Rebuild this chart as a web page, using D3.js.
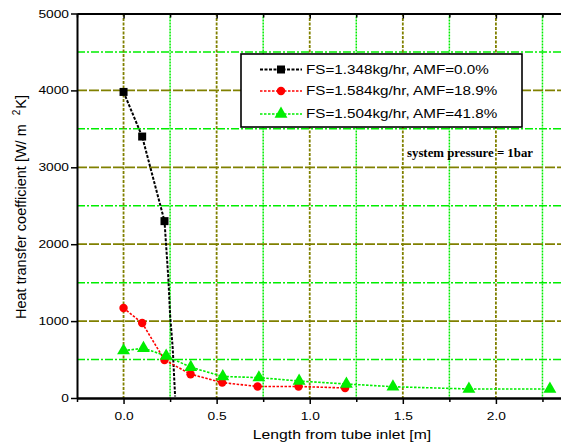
<!DOCTYPE html>
<html><head><meta charset="utf-8">
<script src="https://cdn.jsdelivr.net/npm/d3@7"></script>
<style>body{margin:0;background:#fff;} svg{display:block;}</style>
</head><body>
<svg id="c" width="561" height="448"></svg>
<script>
// ---- data ----
const blackX = [0, 0.1, 0.22];
const blackY = [3980, 3400, 2300];
const blackTailX = [0.241, 0.25, 0.264, 0.277];
const blackTailY = [1540, 1080, 650, 20];
const redX = [0, 0.1, 0.22, 0.36, 0.53, 0.72, 0.94, 1.19];
const redY = [1170, 975, 495, 310, 200, 150, 150, 130];
const greenX = [0, 0.107, 0.229, 0.361, 0.533, 0.727, 0.943, 1.197, 1.447, 1.855, 2.29];
const greenY = [616, 647, 547, 400, 280, 265, 221, 182, 147, 117, 117];
const seriesLabels = ["FS=1.348kg/hr, AMF=0.0%", "FS=1.584kg/hr, AMF=18.9%", "FS=1.504kg/hr, AMF=41.8%"];
const seriesColors = ["#000000", "#ff0000", "#00ee00"];
const seriesShapes = ["square", "circle", "triangle"];
const xMajor = [0, 0.5, 1.0, 1.5, 2.0, 2.5];
const xMinor = [-0.25, 0.25, 0.75, 1.25, 1.75, 2.25];
const xLabelled = [0, 0.5, 1.0, 1.5, 2.0];
const yMajor = [0, 1000, 2000, 3000, 4000, 5000];
const yMinor = [500, 1500, 2500, 3500, 4500];
const xLabel = "Length from tube inlet [m]";
const yLabelMain = "Heat transfer coefficient [W/ m";
const yLabelSup = "2";
const yLabelEnd = "K]";
const note = "system pressure = 1bar";

// ---- layout ----
const svg = d3.select("#c");
const x = d3.scaleLinear().domain([-0.25, 2.5]).range([77, 589]);
const y = d3.scaleLinear().domain([0, 5000]).range([398, 13.5]);
const SANS = "'Liberation Sans', Arial, sans-serif";

function stretch(sel, sx) {
  sel.each(function () {
    const t = d3.select(this);
    const x0 = +t.attr("x") || 0;
    t.attr("transform", `translate(${x0},0) scale(${sx},1) translate(${-x0},0)`);
  });
}

// ---- grid ----
const grid = svg.append("g");
const olive = "#808000", lime = "#00ee00";
grid.selectAll(".vmin").data(xMinor.filter(d => d > -0.25)).enter().append("line")
  .attr("x1", d => x(d)).attr("x2", d => x(d)).attr("y1", y(5000)).attr("y2", y(0))
  .attr("stroke", lime).attr("stroke-width", 1.5).attr("stroke-dasharray", "2,1");
grid.selectAll(".hmin").data(yMinor).enter().append("line")
  .attr("x1", x(-0.25)).attr("x2", x(2.5)).attr("y1", d => y(d)).attr("y2", d => y(d))
  .attr("stroke", lime).attr("stroke-width", 1.5).attr("stroke-dasharray", "8,2,2,2");
grid.selectAll(".vmaj").data(xMajor).enter().append("line")
  .attr("x1", d => x(d)).attr("x2", d => x(d)).attr("y1", y(5000)).attr("y2", y(0))
  .attr("stroke", olive).attr("stroke-width", 1.8).attr("stroke-dasharray", "3,1.5");
grid.selectAll(".hmaj").data(yMajor.filter(d => d > 0 && d < 5000)).enter().append("line")
  .attr("x1", x(-0.25)).attr("x2", x(2.5)).attr("y1", d => y(d)).attr("y2", d => y(d))
  .attr("stroke", olive).attr("stroke-width", 1.8).attr("stroke-dasharray", "10,2");

// ---- axes ----
const fmtX = d3.format(".1f");
const gx = svg.append("g").attr("transform", `translate(0,${y(0)})`)
  .call(d3.axisBottom(x).tickValues(xLabelled).tickFormat(fmtX).tickSize(6).tickPadding(8).tickSizeOuter(0));
svg.append("g").attr("transform", `translate(0,${y(0)})`)
  .call(d3.axisBottom(x).tickValues(xMinor).tickFormat("").tickSize(4).tickSizeOuter(0));
svg.append("g").attr("transform", `translate(0,${y(5000)})`)
  .call(d3.axisTop(x).tickValues(xMajor).tickFormat("").tickSize(-5).tickSizeOuter(0));
svg.append("g").attr("transform", `translate(0,${y(5000)})`)
  .call(d3.axisTop(x).tickValues(xMinor).tickFormat("").tickSize(-4).tickSizeOuter(0));
const gy = svg.append("g").attr("transform", `translate(${x(-0.25)},0)`)
  .call(d3.axisLeft(y).tickValues(yMajor).tickFormat(d3.format("d")).tickSize(6).tickPadding(2).tickSizeOuter(0));
svg.selectAll(".domain").attr("stroke", "#000").attr("stroke-width", 2);
svg.selectAll(".tick line").attr("stroke", "#000").attr("stroke-width", 1.5);
svg.selectAll(".tick text").attr("font-family", SANS).attr("font-size", 11).attr("fill", "#000");
stretch(gx.selectAll(".tick text"), 1.25);
stretch(gy.selectAll(".tick text"), 1.25);

// axis labels
const xl = svg.append("text").attr("x", 342).attr("y", 439).attr("text-anchor", "middle")
  .attr("font-family", SANS).attr("font-size", 12.5).text(xLabel);
stretch(xl, 1.26);

const yl = svg.append("text").attr("transform", "translate(26,319) rotate(-90)")
  .attr("font-family", SANS).attr("font-size", 14.5);
yl.append("tspan").text(yLabelMain);
yl.append("tspan").attr("dx", 9).attr("dy", -6).attr("font-size", 10).text(yLabelSup);
yl.append("tspan").attr("dx", 1).attr("dy", 6).text(yLabelEnd);

// ---- series ----
const symType = { square: d3.symbolSquare, circle: d3.symbolCircle, triangle: d3.symbolTriangle };
const symSize = { square: 64, circle: 56, triangle: 72 };
const lineGen = d3.line().x(d => x(d[0])).y(d => y(d[1]));
const blackPts = blackX.map((v, i) => [v, blackY[i]]);
const blackLine = blackPts.concat(blackTailX.map((v, i) => [v, blackTailY[i]]));
const redPts = redX.map((v, i) => [v, redY[i]]);
const greenPts = greenX.map((v, i) => [v, greenY[i]]);
const series = [
  { line: blackLine, pts: blackPts, w: 2, dash: "3,1.5" },
  { line: redPts, pts: redPts, w: 1.6, dash: "2.5,1.5" },
  { line: greenPts, pts: greenPts, w: 1.6, dash: "2.5,1.5" }
];
series.forEach((s, i) => {
  svg.append("path").attr("d", lineGen(s.line)).attr("fill", "none")
    .attr("stroke", seriesColors[i]).attr("stroke-width", s.w).attr("stroke-dasharray", s.dash);
});
series.forEach((s, i) => {
  svg.selectAll(null).data(s.pts).enter().append("path")
    .attr("transform", d => `translate(${x(d[0])},${y(d[1])})`)
    .attr("d", d3.symbol().type(symType[seriesShapes[i]]).size(symSize[seriesShapes[i]]))
    .attr("fill", seriesColors[i]);
});

// ---- legend ----
const lg = svg.append("g");
lg.append("rect").attr("x", 241).attr("y", 54).attr("width", 281).attr("height", 73)
  .attr("fill", "#fff").attr("stroke", "#000").attr("stroke-width", 1.6);
const rowY = [69.5, 91, 114];
seriesLabels.forEach((lab, i) => {
  lg.append("line").attr("x1", 260).attr("x2", 302).attr("y1", rowY[i]).attr("y2", rowY[i])
    .attr("stroke", seriesColors[i]).attr("stroke-width", series[i].w).attr("stroke-dasharray", series[i].dash);
  lg.append("path").attr("transform", `translate(281,${rowY[i]})`)
    .attr("d", d3.symbol().type(symType[seriesShapes[i]]).size(symSize[seriesShapes[i]]))
    .attr("fill", seriesColors[i]);
  const t = lg.append("text").attr("x", 306).attr("y", rowY[i] + 4.3)
    .attr("font-family", SANS).attr("font-size", 12).text(lab);
  stretch(t, 1.27);
});

svg.append("text").attr("x", 407).attr("y", 157)
  .attr("font-family", "'Liberation Serif', 'Times New Roman', serif").attr("font-weight", "bold")
  .attr("font-size", 13).attr("textLength", 126).attr("lengthAdjust", "spacingAndGlyphs").text(note);
</script>
</body></html>
